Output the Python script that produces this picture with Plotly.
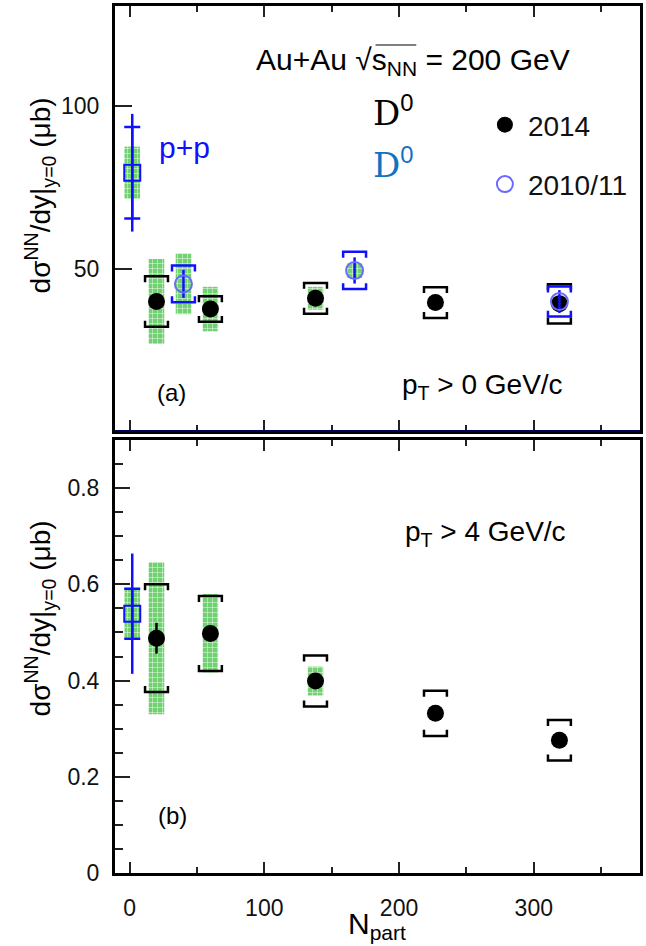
import plotly.graph_objects as go

# ---------------- data ----------------
# panel (a): pT > 0 GeV/c, dsigma/dy in micro-barn
npart_2014 = [20, 60, 138, 227, 319]
a_2014 = [40.1, 37.8, 41.1, 39.8, 39.4]
a_2014_stat = [1.2, 1.2, 1.2, 1.2, 1.2]
a_2014_sys = [7.7, 3.9, 4.7, 4.7, 6.0]
a_2014_glob = [13.0, 6.8, 3.5, 0.0, 0.0]

npart_1011 = [40, 167, 319]
a_1011 = [45.5, 49.6, 40.1]
a_1011_stat = [4.3, 4.0, 3.5]
a_1011_sys = [5.6, 5.7, 4.6]
a_1011_glob = [9.3, 2.3, 1.5]

npart_pp = [2]
a_pp = [79.5]
a_pp_stat = [18.0]
a_pp_sys = [14.0]
a_pp_glob = [8.0]

# panel (b): pT > 4 GeV/c
b_2014 = [0.488, 0.498, 0.399, 0.332, 0.276]
b_2014_stat = [0.032, 0.012, 0.010, 0.010, 0.010]
b_2014_sys = [0.112, 0.078, 0.053, 0.047, 0.042]
b_2014_glob = [0.158, 0.082, 0.030, 0.0, 0.0]

b_pp = [0.539]
b_pp_stat = [0.125]
b_pp_sys = [0.052]
b_pp_glob = [0.053]

x_ticks = [0, 100, 200, 300]
a_yticks = [50, 100]

# ---------------- styles ----------------
FONT = "Liberation Sans, Arial, sans-serif"
BLACK = "black"
BLUE = "#1010ff"
BLUE_OPEN = "#6a6aff"
GREEN = "#62cc62"
BAND_W = 11.5
BR_HALF = 8.5

W, H = 646, 946
L, R, T, B = 115, 3, 6, 73
PW, PH = W - L - R, H - T - B


def px(xp):
    return (xp - L) / PW


def py(yp):
    return (H - B - yp) / PH


def band(x, y, g, xa, ya):
    xs, hs, bs = [], [], []
    for xi, yi, gi in zip(x, y, g):
        if gi > 0:
            xs.append(xi)
            hs.append(2 * gi)
            bs.append(yi - gi)
    return go.Bar(x=xs, y=hs, base=bs, width=BAND_W, xaxis=xa, yaxis=ya,
                  marker=dict(color=GREEN, line=dict(width=0),
                              pattern=dict(shape="+", fgcolor="white", fgopacity=0.85,
                                           size=5, solidity=0.2)),
                  opacity=0.9, showlegend=False, hoverinfo="skip")


def brackets(x, y, s, color, arm, xa, ya):
    xs, ys = [], []
    for xi, yi, si in zip(x, y, s):
        top, bot = yi + si, yi - si
        xs += [xi - BR_HALF, xi - BR_HALF, xi + BR_HALF, xi + BR_HALF, None]
        ys += [top - arm, top, top, top - arm, None]
        xs += [xi - BR_HALF, xi - BR_HALF, xi + BR_HALF, xi + BR_HALF, None]
        ys += [bot + arm, bot, bot, bot + arm, None]
    return go.Scatter(x=xs, y=ys, mode="lines", xaxis=xa, yaxis=ya,
                      line=dict(color=color, width=2.5), showlegend=False,
                      hoverinfo="skip")


fig = go.Figure()

# ----- panel (a) -----
XA, YA = "x2", "y2"
ARM_A = 1.8
fig.add_trace(band(npart_2014, a_2014, a_2014_glob, XA, YA))
fig.add_trace(band(npart_1011, a_1011, a_1011_glob, XA, YA))
fig.add_trace(band(npart_pp, a_pp, a_pp_glob, XA, YA))
fig.add_trace(brackets(npart_2014, a_2014, a_2014_sys, BLACK, ARM_A, XA, YA))
fig.add_trace(go.Scatter(x=npart_2014, y=a_2014, mode="markers", xaxis=XA, yaxis=YA,
                         name="2014", legendgroup="g1",
                         marker=dict(symbol="circle", size=17, color=BLACK),
                         error_y=dict(type="data", array=a_2014_stat, color=BLACK,
                                      thickness=2.5, width=0)))
fig.add_trace(brackets(npart_1011, a_1011, a_1011_sys, BLUE, ARM_A, XA, YA))
fig.add_trace(go.Scatter(x=npart_1011, y=a_1011, mode="markers", xaxis=XA, yaxis=YA,
                         name="2010/11", legendgroup="g2",
                         marker=dict(symbol="circle-open", size=17, color=BLUE_OPEN,
                                     line=dict(width=2)),
                         error_y=dict(type="data", array=a_1011_stat, color=BLUE,
                                      thickness=2.5, width=0)))
fig.add_trace(go.Scatter(x=npart_pp, y=a_pp, mode="markers", xaxis=XA, yaxis=YA,
                         showlegend=False,
                         marker=dict(symbol="square-open", size=16, color=BLUE,
                                     line=dict(width=2)),
                         error_y=dict(type="data", array=a_pp_stat, color=BLUE,
                                      thickness=2.5, width=0)))
fig.add_trace(go.Scatter(x=npart_pp, y=a_pp, mode="markers", xaxis=XA, yaxis=YA,
                         showlegend=False, marker=dict(size=1, color="rgba(0,0,0,0)"),
                         error_y=dict(type="data", array=a_pp_sys, color=BLUE,
                                      thickness=2.5, width=8)))

# ----- panel (b) -----
XB, YB = "x", "y"
ARM_B = 0.0125
fig.add_trace(band(npart_2014, b_2014, b_2014_glob, XB, YB))
fig.add_trace(band(npart_pp, b_pp, b_pp_glob, XB, YB))
fig.add_trace(brackets(npart_2014, b_2014, b_2014_sys, BLACK, ARM_B, XB, YB))
fig.add_trace(go.Scatter(x=npart_2014, y=b_2014, mode="markers", xaxis=XB, yaxis=YB,
                         showlegend=False,
                         marker=dict(symbol="circle", size=17, color=BLACK),
                         error_y=dict(type="data", array=b_2014_stat, color=BLACK,
                                      thickness=2.5, width=0)))
fig.add_trace(go.Scatter(x=npart_pp, y=b_pp, mode="markers", xaxis=XB, yaxis=YB,
                         showlegend=False,
                         marker=dict(symbol="square-open", size=16, color=BLUE,
                                     line=dict(width=2)),
                         error_y=dict(type="data", array=b_pp_stat, color=BLUE,
                                      thickness=2.5, width=0)))
fig.add_trace(go.Scatter(x=npart_pp, y=b_pp, mode="markers", xaxis=XB, yaxis=YB,
                         showlegend=False, marker=dict(size=1, color="rgba(0,0,0,0)"),
                         error_y=dict(type="data", array=b_pp_sys, color=BLUE,
                                      thickness=2.5, width=8)))

# ---------------- axes ----------------
xcommon = dict(range=[-10.8, 378.8], tickvals=x_ticks, ticks="inside", ticklen=11,
               tickwidth=1.5, tickcolor="#222", showline=True, linecolor="black",
               linewidth=3, mirror="allticks", showgrid=False, zeroline=False,
               minor=dict(dtick=50, tick0=0, ticks="inside", ticklen=6, tickwidth=1.5,
                          tickcolor="#222", showgrid=False),
               tickfont=dict(size=23, family=FONT, color="#111"))

fig.update_layout(
    width=W, height=H,
    margin=dict(l=L, r=R, t=T, b=B),
    paper_bgcolor="white", plot_bgcolor="white",
    barmode="overlay",
    font=dict(family=FONT, size=23, color="black"),
    showlegend=True,
    legend=dict(x=px(484), y=py(100), xanchor="left", yanchor="top",
                font=dict(size=28, family=FONT, color="#111"),
                bgcolor="rgba(0,0,0,0)", tracegroupgap=20, itemwidth=36),
    xaxis=dict(**xcommon, anchor="y", domain=[0, 1], ticklabelstandoff=12),
    xaxis2=dict(**xcommon, anchor="y2", domain=[0, 1], showticklabels=False),
    yaxis=dict(domain=[0, py(440)], range=[0, 0.9], tickvals=[0, 0.2, 0.4, 0.6, 0.8],
               ticktext=["0", "0.2", "0.4", "0.6", "0.8"],
               ticks="inside", ticklen=15, tickwidth=1.5, tickcolor="#222",
               minor=dict(dtick=0.05, tick0=0, ticks="inside", ticklen=8,
                          tickwidth=1.5, tickcolor="#222"),
               showline=True, linecolor="black", linewidth=3, mirror=True,
               showgrid=False, zeroline=False, ticklabelstandoff=8,
               tickfont=dict(size=23, family=FONT, color="#111")),
    yaxis2=dict(domain=[py(431), 1], range=[0.5, 130.5], tickvals=a_yticks,
                ticks="inside", ticklen=17, tickwidth=1.5, tickcolor="#222",
                showline=True, linecolor="black", linewidth=3, mirror=True,
                showgrid=False, zeroline=False, ticklabelstandoff=8,
                tickfont=dict(size=23, family=FONT, color="#111")),
)

# navy bottom border of the upper panel, overline of the square root
fig.add_shape(type="line", xref="x2 domain", yref="y2 domain", x0=0, x1=1, y0=0, y1=0,
              line=dict(color="#00005a", width=2))
fig.add_shape(type="line", xref="paper", yref="paper", x0=px(377), x1=px(418),
              y0=py(45), y1=py(45), line=dict(color="black", width=1.2))

ann = []


def text(s, xp, yp, size, color="black", family=FONT, xanchor="center", angle=0):
    ann.append(dict(text=s, x=px(xp), y=py(yp), xref="paper", yref="paper",
                    showarrow=False, font=dict(size=size, color=color, family=family),
                    xanchor=xanchor, yanchor="middle", textangle=angle))


ytitle = "dσ<sup>NN</sup>/dy|<sub>y=0</sub> (μb)"
SUP0 = "<sup><span style='font-family:Liberation Sans'>0</span></sup>"
text(ytitle, 40, 195, 28, angle=-90)
text(ytitle, 40, 618, 28, angle=-90)
text("Au+Au √s<sub>NN</sub> = 200 GeV", 415, 62, 30)
text("D" + SUP0, 395, 111, 34, family="DejaVu Serif")
text("D" + SUP0, 395, 163, 34, color="#1172c2", family="DejaVu Serif")
text("p+p", 185, 147, 30, color=BLUE)
text("(a)", 172, 392, 24)
text("p<sub>T</sub> > 0 GeV/c", 485, 387, 28)
text("p<sub>T</sub> > 4 GeV/c", 488, 533, 28)
text("(b)", 173, 815, 24)
text("N<sub>part</sub>", 378, 925, 30)
fig.update_layout(annotations=ann)

fig.write_html("out.html")
